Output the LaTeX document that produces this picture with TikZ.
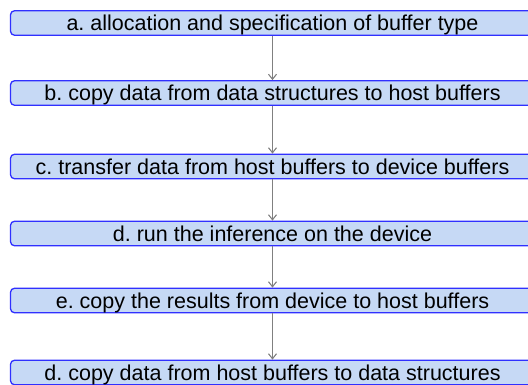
\documentclass[tikz,border=0pt]{standalone}
\usepackage{fontspec}
\setmainfont{Liberation Sans}
\usetikzlibrary{arrows.meta}
\definecolor{boxfill}{HTML}{C6D9F5}
\definecolor{boxline}{HTML}{3030FF}
\definecolor{arrowgray}{HTML}{808080}
\frenchspacing
\begin{document}
\begin{tikzpicture}[x=1pt,y=1pt,
  stepbox/.style={draw=boxline, fill=boxfill, line width=1.3pt, rounded corners=4pt,
    minimum width=524pt, minimum height=24.5pt, inner sep=0pt,
    text height=16pt, text depth=0pt,
    font=\fontsize{21.5}{24}\selectfont\frenchspacing},
  conn/.style={draw=arrowgray, line width=1.1pt, -{Straight Barb[length=5pt,width=8pt]}}]
\useasboundingbox (0,0) rectangle (528,-385);
\node[stepbox] (a) at (272.5,-23) {a. allocation and specification of buffer type};
\node[stepbox] (b) at (272.5,-93) {b. copy data from data structures to host buffers};
\node[stepbox] (c) at (272.5,-166.5) {c. transfer data from host buffers to device buffers};
\node[stepbox] (d) at (272.5,-233.5) {d. run the inference on the device};
\node[stepbox] (e) at (272.5,-300.5) {e. copy the results from device to host buffers};
\node[stepbox] (f) at (272.5,-372.5) {d. copy data from host buffers to data structures};
\draw[conn] (a) -- (b);
\draw[conn] (b) -- (c);
\draw[conn] (c) -- (d);
\draw[conn] (d) -- (e);
\draw[conn] (e) -- (f);
\end{tikzpicture}
\end{document}
